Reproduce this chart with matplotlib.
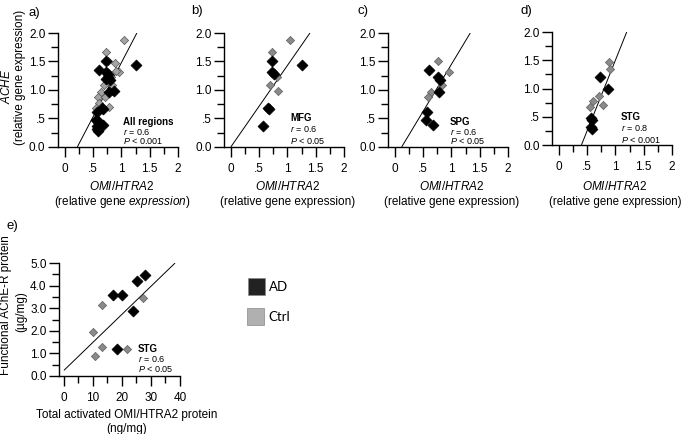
import matplotlib
matplotlib.use('Agg')
import matplotlib.pyplot as plt
from matplotlib.ticker import FixedLocator, MultipleLocator
from matplotlib.patches import Rectangle

plt.rcParams['font.family'] = ['Liberation Sans', 'DejaVu Sans']
plt.rcParams['mathtext.fontset'] = 'custom'
plt.rcParams['mathtext.rm'] = 'Liberation Sans'
plt.rcParams['mathtext.it'] = 'Liberation Sans:italic'
plt.rcParams['mathtext.bf'] = 'Liberation Sans:bold'

# ---------------- data ----------------
# MFG (panel b)
mfg_ad_x = [0.73, 1.25, 0.72, 0.76, 0.65, 0.67, 0.57]
mfg_ad_y = [1.51, 1.44, 1.32, 1.28, 0.69, 0.66, 0.36]
mfg_ctrl_x = [1.04, 0.72, 0.82, 0.69, 0.84]
mfg_ctrl_y = [1.88, 1.66, 1.22, 1.08, 0.99]
# SPG (panel c)
spg_ad_x = [0.61, 0.76, 0.80, 0.78, 0.57, 0.56, 0.67]
spg_ad_y = [1.35, 1.23, 1.18, 0.97, 0.62, 0.47, 0.39]
spg_ctrl_x = [0.77, 0.95, 0.84, 0.64, 0.59]
spg_ctrl_y = [1.50, 1.32, 1.09, 0.97, 0.88]
# STG (panel d)
stg_ad_x = [0.72, 0.87, 0.57, 0.59, 0.57, 0.59]
stg_ad_y = [1.20, 0.99, 0.48, 0.44, 0.32, 0.28]
stg_ctrl_x = [0.89, 0.91, 0.71, 0.61, 0.56, 0.78]
stg_ctrl_y = [1.47, 1.34, 0.87, 0.77, 0.68, 0.71]
# All regions (panel a) = union of MFG, SPG, STG
all_ad_x = mfg_ad_x + spg_ad_x + stg_ad_x
all_ad_y = mfg_ad_y + spg_ad_y + stg_ad_y
all_ctrl_x = mfg_ctrl_x + spg_ctrl_x + stg_ctrl_x
all_ctrl_y = mfg_ctrl_y + spg_ctrl_y + stg_ctrl_y
# STG protein (panel e)
prot_ad_x = [27.9, 25.3, 16.8, 19.9, 23.7, 18.2]
prot_ad_y = [4.47, 4.22, 3.58, 3.58, 2.88, 1.19]
prot_ctrl_x = [27.3, 13.0, 9.9, 13.2, 21.8, 10.7]
prot_ctrl_y = [3.44, 3.15, 1.96, 1.27, 1.19, 0.87]

# regression lines (slope, intercept)
fit_all = (1.90, -0.42)
fit_mfg = (1.43, 0.0)
fit_spg = (1.65, -0.20)
fit_stg = (2.50, -1.00)
fit_prot = (0.124, 0.25)

stats_all = ("All regions", "0.6", "< 0.001")
stats_mfg = ("MFG", "0.6", "< 0.05")
stats_spg = ("SPG", "0.6", "< 0.05")
stats_stg = ("STG", "0.8", "< 0.001")
stats_prot = ("STG", "0.6", "< 0.05")

gene_yticks = [0, 0.5, 1.0, 1.5, 2.0]
gene_yticklabels = ['0.0', '.5', '1.0', '1.5', '2.0']
gene_xticks = [0, 0.5, 1.0, 1.5, 2.0]
gene_xticklabels = ['0', '.5', '1', '1.5', '2']
prot_yticks = [0, 1, 2, 3, 4, 5]
prot_yticklabels = ['0.0', '1.0', '2.0', '3.0', '4.0', '5.0']
prot_xticks = [0, 10, 20, 30, 40]
prot_xticklabels = ['0', '10', '20', '30', '40']

# ---------------- figure ----------------
W, H = 682, 434
fig = plt.figure(figsize=(W / 100, H / 100), dpi=100)

AD_FACE = '#000000'


def fx(px):
    return px / W


def fy(py):
    return 1 - py / H


def make_ax(left, bottom, width, height):
    ax = fig.add_axes([fx(left), fy(bottom), width / W, height / H])
    for s in ['top', 'right']:
        ax.spines[s].set_visible(False)
    for s in ['left', 'bottom']:
        ax.spines[s].set_linewidth(1.0)
    ax.tick_params(which='major', direction='out', length=7.5, width=1.0,
                   labelsize=8.5, colors='black')
    ax.tick_params(which='minor', direction='out', length=5, width=1.0)
    ax.tick_params(axis='y', pad=1.5)
    ax.tick_params(axis='x', pad=4)
    ax.patch.set_alpha(0)
    return ax


def draw_fit(ax, fit, ymax, xmin=0):
    m, b = fit
    x0 = max(xmin, -b / m)
    x1 = (ymax - b) / m
    ax.plot([x0, x1], [m * x0 + b, m * x1 + b], color='black', lw=0.7,
            zorder=1, solid_capstyle='butt')


def draw_points(ax, adx, ady, cx, cy, cface='#8a8a8a', cedge='#5f5f5f'):
    ax.scatter(cx, cy, marker='D', s=4.2 ** 2, facecolor=cface,
               edgecolor=cedge, linewidth=0.5, zorder=3, clip_on=False)
    ax.scatter(adx, ady, marker='D', s=5.6 ** 2, facecolor=AD_FACE,
               edgecolor=AD_FACE, linewidth=0.5, zorder=4, clip_on=False)


def stats_text(x, y1, y2, y3, stats):
    name, r, p = stats
    fig.text(fx(x), fy(y1), name, fontsize=7, fontweight='bold', va='center')
    fig.text(fx(x), fy(y2), r"$r$ = " + r, fontsize=6.5, va='center')
    fig.text(fx(x), fy(y3), r"$P$ " + p, fontsize=6.5, va='center')


def gene_panel(left, bottom, height, adx, ady, cx, cy, fit, stats, txt, **kw):
    ax = make_ax(left, bottom, 120, height)
    ax.set_xlim(-0.12, 2.0)
    ax.set_ylim(0, 2.0)
    ax.yaxis.set_major_locator(FixedLocator(gene_yticks))
    ax.set_yticklabels(gene_yticklabels)
    ax.xaxis.set_major_locator(FixedLocator(gene_xticks))
    ax.set_xticklabels(gene_xticklabels)
    ax.xaxis.set_minor_locator(MultipleLocator(0.25))
    ax.yaxis.set_minor_locator(MultipleLocator(0.25))
    draw_fit(ax, fit, 2.0)
    draw_points(ax, adx, ady, cx, cy, **kw)
    stats_text(*txt, stats)
    return ax


# panel a
gene_panel(58, 147, 114, all_ad_x, all_ad_y, all_ctrl_x, all_ctrl_y,
           fit_all, stats_all, (123, 122, 132, 141),
           cface='#a3a3a3', cedge='#555555')
# panel b
gene_panel(224, 147, 114, mfg_ad_x, mfg_ad_y, mfg_ctrl_x, mfg_ctrl_y,
           fit_mfg, stats_mfg, (290, 118, 129, 141))
# panel c
gene_panel(388, 147, 114, spg_ad_x, spg_ad_y, spg_ctrl_x, spg_ctrl_y,
           fit_spg, stats_spg, (450, 122, 132, 141))
# panel d
gene_panel(552, 145, 113, stg_ad_x, stg_ad_y, stg_ctrl_x, stg_ctrl_y,
           fit_stg, stats_stg, (621, 117, 128, 140))

# x labels for a-d
fig.text(fx(122), fy(187), r"$OMI/HTRA2$", fontsize=8.5, ha='center', va='center')
fig.text(fx(122), fy(202), r"(relative gene $expression)$", fontsize=8.5,
         ha='center', va='center')
for cx, fs in [(288, 8.5), (452, 8.5), (615, 8.3)]:
    fig.text(fx(cx), fy(187), r"$OMI/HTRA2$", fontsize=8.5, ha='center', va='center')
    fig.text(fx(cx), fy(202), "(relative gene expression)", fontsize=fs,
             ha='center', va='center')

# y label panel a
fig.text(fx(7), fy(86), r"$ACHE$", fontsize=8.5, ha='center', va='center', rotation=90)
fig.text(fx(20), fy(77), "(relative gene expression)", fontsize=8.5,
         ha='center', va='center', rotation=90)

# panel e
axe = make_ax(59, 376, 121, 113)
axe.set_xlim(-1.7, 40)
axe.set_ylim(0, 5)
axe.yaxis.set_major_locator(FixedLocator(prot_yticks))
axe.set_yticklabels(prot_yticklabels)
axe.xaxis.set_major_locator(FixedLocator(prot_xticks))
axe.set_xticklabels(prot_xticklabels)
axe.xaxis.set_minor_locator(MultipleLocator(5))
axe.yaxis.set_minor_locator(MultipleLocator(0.5))
draw_fit(axe, fit_prot, 5.0)
draw_points(axe, prot_ad_x, prot_ad_y, prot_ctrl_x, prot_ctrl_y)
stats_text(138, 349, 359, 369, stats_prot)
fig.text(fx(127), fy(415), "Total activated OMI/HTRA2 protein", fontsize=8.5,
         ha='center', va='center')
fig.text(fx(127), fy(429), "(ng/mg)", fontsize=8.5, ha='center', va='center')
fig.text(fx(6), fy(305), "Functional AChE-R protein", fontsize=8.5,
         ha='center', va='center', rotation=90)
fig.text(fx(21), fy(312), "(\u00b5g/mg)", fontsize=8.5,
         ha='center', va='center', rotation=90)

# panel labels
for lab, x, y in [("a)", 34, 13), ("b)", 197, 11), ("c)", 363, 11),
                  ("d)", 526, 11), ("e)", 12, 226)]:
    fig.text(fx(x), fy(y), lab, fontsize=9.5, ha='center', va='center')

# legend
legend_items = [("AD", '#222222'), ("Ctrl", '#b0b0b0')]
for (lab, col), (x, y) in zip(legend_items, [(248, 278), (247, 308)]):
    fig.patches.append(Rectangle((fx(x), fy(y + 17)), 17 / W, 17 / H,
                                 transform=fig.transFigure, facecolor=col,
                                 edgecolor='#888888', linewidth=0.5))
    fig.text(fx(x + 21), fy(y + 9), lab, fontsize=9.5, family=['Lato', 'DejaVu Sans'],
             va='center', ha='left')

fig.savefig('out.png', dpi=100)
